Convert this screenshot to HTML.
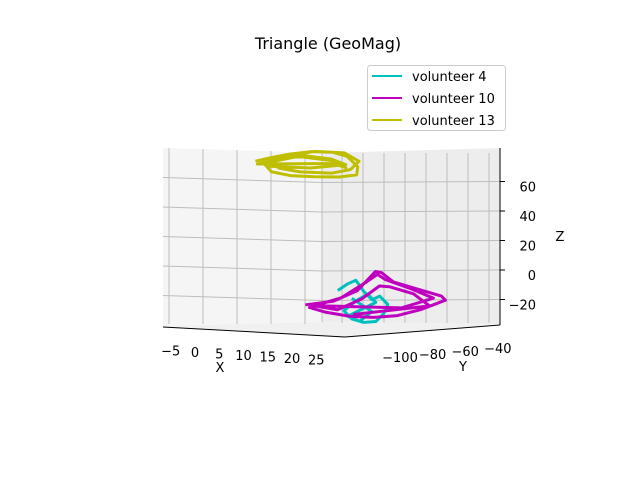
<!DOCTYPE html>
<html><head><meta charset="utf-8"><style>
body{margin:0;background:#fff}
svg text{font-family:"DejaVu Sans","Liberation Sans",sans-serif;font-size:13px;fill:#000}
</style></head><body>
<svg id="chart" width="640" height="480" xmlns="http://www.w3.org/2000/svg">
<rect width="640" height="480" fill="#fff"/>
<polygon points="163,148 322,153 322,322 163,326" fill="#f5f5f5"/>
<polygon points="322,153 500,148 500,324 322,322" fill="#ededed"/>
<polygon points="163,326 322,322 500,324 345,337" fill="#f0f0f0"/>
<g id="grid"></g>
<g id="series"></g>
<polyline points="163,327 345,337" stroke="#000" stroke-width="1" fill="none"/>
<polyline points="345,337 500,325" stroke="#000" stroke-width="1" fill="none"/>
<line x1="500" y1="148" x2="500" y2="325" stroke="#000"/>
<g id="ticks"></g>
<text x="220" y="372" text-anchor="middle">X</text>
<text x="463" y="371" text-anchor="middle">Y</text>
<text x="560" y="241" text-anchor="middle">Z</text>
<text x="328" y="49" text-anchor="middle" style="font-size:16px">Triangle (GeoMag)</text>
<g>
<rect x="367.5" y="65.5" width="138" height="65" rx="3" fill="#fff" stroke="#ccc"/>
<line x1="372" y1="76" x2="402" y2="76" stroke="#00bfbf" stroke-width="2"/>
<text x="412" y="81">volunteer 4</text>
<line x1="372" y1="98" x2="402" y2="98" stroke="#bf00bf" stroke-width="2"/>
<text x="412" y="103">volunteer 10</text>
<line x1="372" y1="120" x2="402" y2="120" stroke="#bfbf00" stroke-width="2"/>
<text x="412" y="125">volunteer 13</text>
</g>
</svg>
<script>
const xTicks=[-5,0,5,10,15,20,25];
const yTicks=[-100,-80,-60,-40];
const zTicks=[-20,0,20,40,60];
const v13X=[5,6,7,8,9,8,7,6,5,4,4,5,6,7,8,9,8,6,5,4,5,6,7,8,7,6,5,6,7,8,7,6,5];
const v13Y=[-100,-95,-88,-80,-72,-62,-54,-52,-58,-68,-80,-92,-98,-90,-78,-66,-56,-55,-62,-75,-88,-96,-84,-70,-60,-64,-99,-90,-80,-70,-60,-75,-94];
const v13Z=[78,80,82,83,82,78,70,64,63,64,66,70,76,81,83,81,74,68,66,68,72,77,80,76,70,73,76,79,80,77,72,71,74];
const v10X=[20,20,20,20,20,20,20,20,20,20,20,20,20,20,20,20,20,20,20,20,20,20,20,20,20,20,20,20,20,20,20];
const v10Y=[-114,-100,-88,-82,-79,-76,-70,-58,-46,-44,-56,-68,-80,-92,-104,-112,-96,-84,-78,-74,-62,-50,-66,-110,-98,-86,-77,-72,-60,-52,-90];
const v10Z=[-15,-14,-8,0,4,3,-4,-10,-16,-19,-24,-27,-27,-25,-21,-17,-12,-3,2,-2,-9,-17,-22,-16,-20,-14,-6,-7,-13,-22,-24];
const v4X=[22,22,22,22,22,22,22,22,22,22,22,22,22,22,22,22,22,22,22];
const v4Y=[-103,-98,-94,-90,-86,-82,-78,-80,-84,-90,-96,-100,-94,-88,-84,-98,-92,-86,-96];
const v4Z=[-6,-2,0,-8,-14,-12,-18,-24,-29,-29,-26,-20,-14,-10,-16,-24,-28,-22,-12];
const NS='http://www.w3.org/2000/svg';
function proj(x,y,z){return [163+(x+7)*5.2+(y+115)*2.0, 275-1.475*z+0.29*(x+7)-0.15*(y+115)];}
function zY(z){return 275-1.475*z;}
const grid=document.getElementById('grid');
function ln(g,x1,y1,x2,y2,c){const l=document.createElementNS(NS,'line');l.setAttribute('x1',x1);l.setAttribute('y1',y1);l.setAttribute('x2',x2);l.setAttribute('y2',y2);l.setAttribute('stroke',c);l.setAttribute('stroke-width','1');g.appendChild(l);return l;}
zTicks.forEach(z=>{const y=zY(z)-4;
 let a=ln(grid,163,y-5,322,y,'#bdbdbd');
 
 
 let b=ln(grid,322,y,500,y-1,'#bdbdbd');
 
 
 let t=ln(grid,500,y-1,505,y-1,'#000');
 
 });
xTicks.forEach(x=>{const sx=203+(x)*6.8-0;if(sx<320){let l=ln(grid,sx,149+x*0.2,sx,324,'#bdbdbd');
 
 }});
yTicks.concat([-110,-90,-70,-50]).forEach(y=>{const sx=342+(y+110)*2.1;if(sx<498){let l=ln(grid,sx,153,sx,323,'#bdbdbd');
 
 }});
ln(grid,322,153,322,322,'#bdbdbd');
const ser=document.getElementById('series');
function draw(X,Y,Z,c,name){let pts=[];for(let i=0;i<X.length;i++){pts.push(proj(X[i],Y[i],Z[i]).join(','));}
 const p=document.createElementNS(NS,'polyline');p.setAttribute('points',pts.join(' '));p.setAttribute('fill','none');p.setAttribute('stroke',c);p.setAttribute('stroke-width','3');p.setAttribute('stroke-linejoin','round');
 
 
 ser.appendChild(p);}
draw(v13X,v13Y,v13Z,'#bfbf00','series-volunteer-13');
draw(v4X,v4Y,v4Z,'#00bfbf','series-volunteer-4');
draw(v10X,v10Y,v10Z,'#bf00bf','series-volunteer-10');
const tk=document.getElementById('ticks');
function tx(s,x,y,anc){const t=document.createElementNS(NS,'text');t.textContent=s;t.setAttribute('x',x);t.setAttribute('y',y);t.setAttribute('text-anchor',anc);tk.appendChild(t);return t;}
xTicks.forEach(x=>{const t=tx(String(x).replace('-','\u2212'),195+x*4.85,357+x*0.3,'middle');
 
 });
yTicks.forEach(y=>{const t=tx(String(y).replace('-','\u2212'),400+(y+100)*1.63,362+(y+100)*0.15*-1,'middle');
 
 });
zTicks.forEach(z=>{const t=tx(String(z).replace('-','\u2212'),536,zY(z)+5,'end');
 
 });
</script>
</body></html>
